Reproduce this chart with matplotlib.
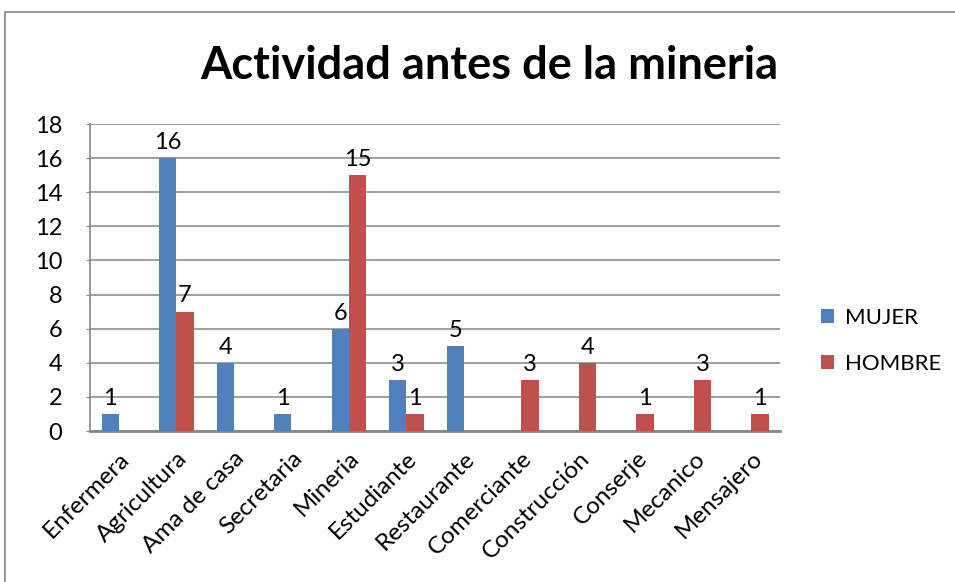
import matplotlib
matplotlib.use("Agg")
import matplotlib.pyplot as plt
import numpy as np
from matplotlib.patches import Rectangle

categories = ["Enfermera", "Agricultura", "Ama de casa", "Secretaria", "Mineria",
              "Estudiante", "Restaurante", "Comerciante", "Construcción", "Conserje",
              "Mecanico", "Mensajero"]
mujer = [1, 16, 4, 1, 6, 3, 5, 0, 0, 0, 0, 0]
hombre = [0, 7, 0, 0, 15, 1, 0, 3, 4, 1, 3, 1]
series_names = ["MUJER", "HOMBRE"]
colors = ["#4F81BD", "#C0504D"]

plt.rcParams['font.family'] = ['Lato', 'DejaVu Sans']

fig = plt.figure(figsize=(9.55, 5.82), dpi=100)
fig.patches.append(Rectangle((5/955, -0.5), 1.5, 1.5 - 12/582, transform=fig.transFigure,
                             fill=False, edgecolor="#868686", linewidth=1.2))
ax = fig.add_axes([90/955, 1 - 431/582, 690/955, (431-124)/582])

x = np.arange(len(categories))
w = 0.3
for vals, name, col, off in [(mujer, series_names[0], colors[0], -w/2),
                             (hombre, series_names[1], colors[1], w/2)]:
    bars = ax.bar(x + off, vals, width=w, color=col, label=name, zorder=3)
    for b, v in zip(bars, vals):
        if v > 0:
            ax.text(b.get_x() + b.get_width()/2, v + 0.3, str(v), ha='center', va='bottom',
                    fontsize=17, zorder=4)

ax.set_xlim(-0.5, len(categories) - 0.5)
ax.set_ylim(0, 18)
ax.set_yticks(range(0, 19, 2))
ax.tick_params(axis='y', labelsize=17, length=3, color="#868686", pad=17)
ax.yaxis.grid(True, color="#868686", linewidth=1.1, zorder=0)
ax.set_xticks(x)
ax.set_xticklabels(categories, rotation=45, ha='right', rotation_mode='anchor', fontsize=17.5)
ax.tick_params(axis='x', length=0, pad=12)
for s in ['top', 'right']:
    ax.spines[s].set_visible(False)
ax.spines['left'].set_color("#868686")
ax.spines['bottom'].set_color("#868686")
ax.spines['bottom'].set_linewidth(2)
ax.spines['left'].set_linewidth(1.2)

fig.text(489/955, 1 - 66/582, "Actividad antes de la mineria", ha='center', va='center',
         fontsize=32.5, fontweight='bold')

leg = fig.legend(loc='center left', bbox_to_anchor=(801/955, 1 - 341/582), frameon=False,
                 fontsize=16, handlelength=0.6, handleheight=0.6, labelspacing=1.15,
                 handletextpad=0.5)

fig.savefig("out.png", dpi=100)
